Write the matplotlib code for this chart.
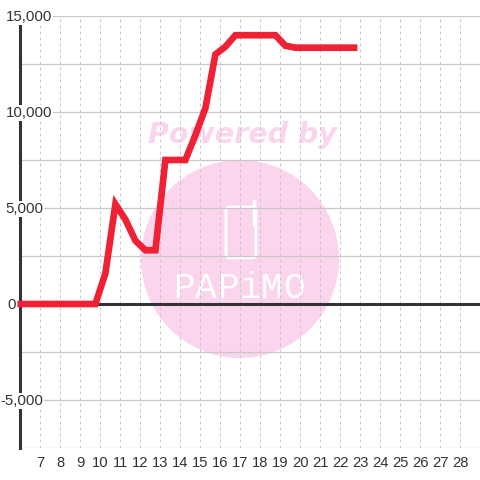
import matplotlib
matplotlib.use("Agg")
import matplotlib.pyplot as plt
from matplotlib.patches import Circle, FancyBboxPatch

hours = [5.85, 6.75, 7.75, 8.75, 9.75, 10.25, 10.75, 11.25, 11.75, 12.25, 12.75, 13.25, 13.75, 14.25,
         14.75, 15.25, 15.75, 16.25, 16.75, 17.25, 17.75, 18.25, 18.75, 19.25, 19.75, 20.25, 20.75,
         21.25, 21.75, 22.25, 22.85]
values = [0, 0, 0, 0, 0, 1600, 5200, 4400, 3300, 2800, 2800, 7500, 7500, 7500,
          8800, 10200, 13000, 13400, 14000, 14000, 14000, 14000, 14000, 13450, 13350, 13350, 13350,
          13350, 13350, 13350, 13350]
x_ticks = list(range(7, 29))
y_grid = [-7500, -5000, -2500, 0, 2500, 5000, 7500, 10000, 12500, 15000]
y_labels = {15000: "15,000", 10000: "10,000", 5000: "5,000", 0: "0", -5000: "-5,000"}
y_label_right = {15000: 52, 10000: 52, 5000: 43, 0: 16, -5000: 43}
logo_letters = ["P", "A", "P", "i", "M", "O"]
logo_x = [184, 206, 228, 250, 272, 294]

plt.rcParams["font.family"] = ["Liberation Sans", "DejaVu Sans"]
DARK = "#333333"
GRID = "#c8c8c8"
PINK = "#fbd5ee"

fig = plt.figure(figsize=(4.8, 4.8), dpi=100, facecolor="white")

# watermark goes underneath, drawn in pixel coordinates
bg = fig.add_axes([0, 0, 1, 1], zorder=0)
bg.set_xlim(0, 480)
bg.set_ylim(480, 0)
bg.axis("off")
bg.add_patch(Circle((240, 259), 99, facecolor=PINK, edgecolor="none"))
bg.text(242, 135, "Powered by", color=PINK, fontsize=20.5, fontweight="bold", fontstyle="italic",
        family="DejaVu Sans", ha="center", va="center")
bg.add_patch(FancyBboxPatch((226, 207), 30, 51, boxstyle="round,pad=0,rounding_size=4",
                            facecolor="none", edgecolor="white", linewidth=2))
bg.plot([254, 254], [201, 225], color="white", linewidth=2.5, solid_capstyle="round")
for letter, lx in zip(logo_letters, logo_x):
    bg.text(lx, 289, letter, color="white", fontsize=26, family="Liberation Mono",
            ha="center", va="center")

ax = fig.add_axes([20.4 / 480, 32 / 480, 460 / 480, 432 / 480], zorder=1)
ax.patch.set_alpha(0)
ax.set_xlim(6, 29)
ax.set_ylim(-7500, 15000)

ax.set_xticks(x_ticks)
ax.set_yticks(y_grid)
ax.set_yticklabels([])
ax.tick_params(axis="both", length=0)
ax.tick_params(axis="x", labelsize=10.6, labelcolor=DARK, pad=6)
ax.grid(axis="x", color=GRID, linewidth=0.72, linestyle=(0, (3, 3)))
ax.grid(axis="y", color=GRID, linewidth=0.9, linestyle="-")
ax.set_axisbelow(True)

for name in ["top", "right", "bottom"]:
    ax.spines[name].set_visible(False)
ax.spines["left"].set_color(DARK)
ax.spines["left"].set_linewidth(2.2)
ax.axhline(0, color=DARK, linewidth=2.2, zorder=2)

ax.plot(hours, values, color="#f02035", linewidth=4.8, solid_joinstyle="miter",
        solid_capstyle="butt", zorder=3, clip_on=False)

# labels sit on white boxes that hide the axis line and the gridline
for val, label in y_labels.items():
    right = y_label_right[val]
    ypx = ax.transData.transform((6, val))[1]
    fig.text(right / 480, (ypx - 1) / 480, label, color=DARK, fontsize=10.8, ha="right", va="center",
             zorder=5, bbox=dict(facecolor="white", edgecolor="none", pad=1))

fig.savefig("out.png", dpi=100)
